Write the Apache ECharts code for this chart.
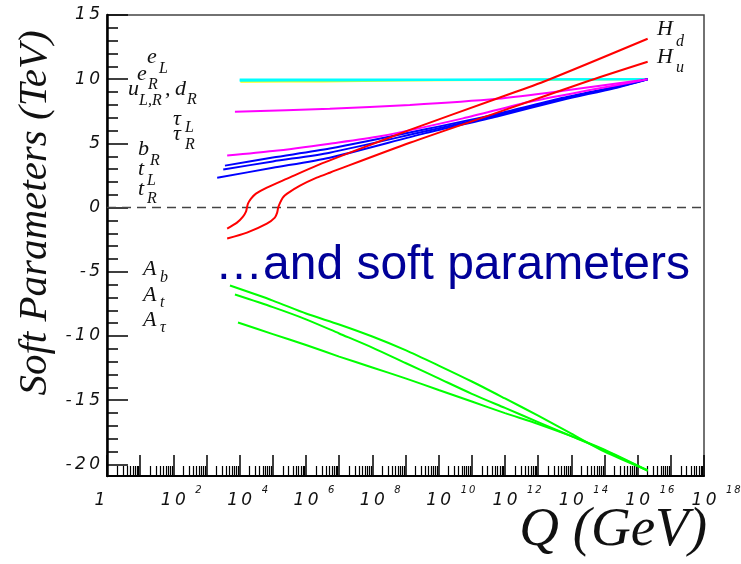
<!DOCTYPE html>
<html><head><meta charset="utf-8">
<script src="https://cdn.jsdelivr.net/npm/echarts@6/dist/echarts.min.js"></script>
<style>html,body{margin:0;padding:0;background:#fff}#c{width:741px;height:564px}</style>
</head><body><div id="c"></div>
<script>
// ---------- axis values ----------
const xMin = 1, xMax = 1.000001e18;
const yMin = -20.9, yMax = 15;
const xLabelValues = [1, 1e2, 1e4, 1e6, 1e8, 1e10, 1e12, 1e14, 1e16, 1e18];
const xMajorTicks = [1,1e1,1e2,1e3,1e4,1e5,1e6,1e7,1e8,1e9,1e10,1e11,1e12,1e13,1e14,1e15,1e16,1e17,1e18];
const yLabelValues = [-20, -15, -10, -5, 0, 5, 10, 15];
const yMinorTicks = [-20,-19,-18,-17,-16,-15,-14,-13,-12,-11,-10,-9,-8,-7,-6,-5,-4,-3,-2,-1,0,1,2,3,4,5,6,7,8,9,10,11,12,13,14,15];

// ---------- series: [Q (GeV), value (TeV)] ----------
const eL   = [[1.0e4, 9.97], [1e8, 9.97], [1e12, 9.98], [2e16, 10.0]];
const eR   = [[1.0e4, 9.88], [1e7, 9.90], [1e10, 9.94], [2e16, 10.0]];
const uLRdR = [[1.05e4, 9.80], [3e6, 9.83], [1e9, 9.90], [2e16, 10.0]];
const tauUpper = [[7.2e3, 7.47], [5.2e6, 7.70], [1.35e9, 8.00], [5.8e11, 8.48], [5.6e13, 9.10], [2e16, 10.0]];
const tauLower = [[4.2e3, 4.05], [1e5, 4.40], [5.2e6, 4.98], [1.7e8, 5.55], [5.4e10, 6.95], [5.6e12, 8.25], [5.9e14, 9.25], [2e16, 10.0]];
const bR = [[3.6e3, 3.27], [1e5, 3.90], [5.2e6, 4.60], [4e9, 6.10], [5.8e11, 7.30], [5.6e13, 8.55], [2e15, 9.40], [2e16, 10.0]];
const tL = [[3.2e3, 2.96], [1e5, 3.60], [5.2e6, 4.28], [4e9, 5.95], [5.8e11, 7.20], [5.6e13, 8.48], [2e15, 9.35], [2e16, 10.0]];
const tR = [[2.1e3, 2.33], [1e5, 3.10], [5.2e6, 3.89], [4e9, 5.80], [5.8e11, 7.10], [5.6e13, 8.40], [2e15, 9.30], [2e16, 10.0]];
const Hd = [[4.2e3, -1.63], [8.3e3, -1.17], [1.26e4, -0.70], [1.55e4, -0.31], [1.66e4, 0.0], [1.78e4, 0.31], [2.2e4, 0.70], [3.1e4, 1.09], [6.6e4, 1.56], [2.7e5, 2.26], [2.1e6, 3.27], [2.1e7, 4.28], [1.35e9, 6.05], [5.8e11, 8.50], [1.8e13, 9.90], [2e16, 13.15]];
const Hu = [[4.2e3, -2.41], [1.66e4, -1.95], [6.6e4, -1.25], [1.15e5, -0.78], [1.35e5, -0.39], [1.45e5, 0.0], [1.66e5, 0.39], [2.0e5, 0.78], [2.7e5, 1.09], [6.6e5, 1.71], [2.1e6, 2.33], [5.2e6, 2.72], [1.35e9, 5.05], [5.8e11, 7.40], [3.6e14, 9.90], [2e16, 11.36]];
const Ab   = [[5.1e3, -6.07], [1e5, -7.24], [1e6, -8.25], [1e7, -9.10], [1e8, -10.04], [1e9, -11.1], [1e10, -12.3], [1e11, -13.54], [1e12, -14.86], [1e13, -16.2], [1e14, -17.6], [1e15, -19.0], [2e16, -20.47]];
const At   = [[7.2e3, -6.77], [1e5, -7.75], [1e6, -8.70], [1e7, -9.80], [1e8, -10.9], [1e9, -12.1], [1e10, -13.3], [1e11, -14.5], [1e12, -15.6], [1e13, -16.7], [1e14, -17.8], [1e15, -18.9], [2e16, -20.47]];
const Atau = [[8.9e3, -8.95], [1e5, -9.85], [1e6, -10.7], [1e7, -11.6], [1e8, -12.45], [1e9, -13.3], [1e10, -14.2], [1e11, -15.1], [1e12, -16.0], [1e13, -16.85], [1e14, -17.8], [1e15, -18.85], [2e16, -20.47]];
const zeroLine = [[1, 0], [1e18, 0]];

// ---------- chart ----------
const xMinorTicks = [];
for (let n = 0; n < 18; n++) for (let k = 2; k <= 9; k++) xMinorTicks.push(k * Math.pow(10, n));

const FONT_NUM = 'DejaVu Sans';
const SERIF = 'Liberation Serif';
const INK = '#111';
const numRich = {
  one: {fontSize: 17, fontFamily: FONT_NUM, fontStyle: 'italic', color: INK, lineHeight: 20, padding: [0, 14, 0, 0]},
  b: {fontSize: 17, fontFamily: FONT_NUM, fontStyle: 'italic', color: INK, lineHeight: 20}
};
const supRich = {
  s: {fontSize: 10, fontFamily: FONT_NUM, fontStyle: 'italic', color: INK, lineHeight: 12, padding: [0, 0, 0, 22]}
};
function sp(s) { return String(s).split('').join('\u2009'); }
function expOf(v) { return Math.round(Math.log10(v)); }

function line(data, color, w) {
  return {type: 'line', data: data, showSymbol: false, symbol: 'none', smooth: 0.25, silent: true,
          lineStyle: {color: color, width: w || 2}, xAxisIndex: 0, yAxisIndex: 0, z: 3};
}

function lab(text, x, base, size) {
  return {type: 'text', x: x, y: base - 0.34 * size, silent: true, z: 10,
          style: {text: text, font: 'italic ' + size + 'px "' + SERIF + '"', fill: INK,
                  align: 'left', verticalAlign: 'middle', textAlign: 'left', textVerticalAlign: 'middle'}};
}

const graphics = [
  lab('e', 147, 65, 22), lab('L', 159, 74, 16),
  lab('e', 137, 82, 22), lab('R', 148, 90, 16),
  lab('u', 128, 97, 22), lab('L,R', 139, 106, 16), lab(',', 165, 97, 22), lab('d', 175, 97, 22), lab('R', 187, 105, 16),
  lab('\u03c4', 173, 127, 22), lab('L', 185, 133, 16),
  lab('\u03c4', 173, 142, 22), lab('R', 185, 150, 16),
  lab('b', 138, 157, 22), lab('R', 150, 166, 16),
  lab('t', 138, 177, 22), lab('L', 147, 186, 16),
  lab('t', 138, 197, 22), lab('R', 147, 204, 16),
  lab('A', 143, 277, 22), lab('b', 160, 283, 16),
  lab('A', 143, 303, 22), lab('t', 160, 308, 16),
  lab('A', 143, 328, 22), lab('\u03c4', 160, 333, 16),
  lab('H', 657, 37, 22), lab('d', 676, 47, 16),
  lab('H', 657, 65, 22), lab('u', 676, 73, 16),
  {type: 'text', x: 35, y: 213, rotation: Math.PI / 2, silent: true,
   style: {text: 'Soft Parameters (TeV)', font: 'italic 41px "' + SERIF + '"', fill: INK,
           align: 'center', verticalAlign: 'middle', textAlign: 'center', textVerticalAlign: 'middle'}},
  {type: 'text', x: 707, y: 531, silent: true,
   style: {text: 'Q (GeV)', font: 'italic 55px "' + SERIF + '"', fill: INK,
           align: 'right', verticalAlign: 'middle', textAlign: 'right', textVerticalAlign: 'middle'}},
  {type: 'text', x: 215, y: 266, silent: true, z: 20,
   style: {text: '\u2026and soft parameters', font: '48px "Liberation Sans"', fill: '#000099',
           align: 'left', verticalAlign: 'middle', textAlign: 'left', textVerticalAlign: 'middle'}}
];

const chart = echarts.init(document.getElementById('c'), null, {renderer: 'canvas'});
chart.setOption({
  animation: false,
  backgroundColor: '#fff',
  grid: {left: 107, right: 37, top: 15, bottom: 88, containLabel: false, outerBoundsMode: 'none',
         show: true, borderColor: '#444', borderWidth: 1.5, backgroundColor: 'transparent'},
  xAxis: [
    {type: 'log', logBase: 10, min: xMin, max: xMax, position: 'bottom',
     axisLine: {show: true, onZero: false, lineStyle: {color: '#000', width: 2}},
     axisTick: {show: true, inside: true, length: 21, customValues: xMajorTicks, lineStyle: {color: '#000', width: 1.5}},
     axisLabel: {show: true, margin: 15, customValues: xLabelValues, rich: numRich, hideOverlap: false, showMinLabel: true, showMaxLabel: true,
                 formatter: function (v) { return expOf(v) === 0 ? '{one|1}' : '{b|' + sp('10') + '}'; }},
     splitLine: {show: false}},
    {type: 'log', logBase: 10, min: xMin, max: xMax, position: 'bottom',
     axisLine: {show: false, onZero: false},
     axisTick: {show: true, inside: true, length: 10, customValues: xMinorTicks, lineStyle: {color: '#000', width: 1.2}},
     axisLabel: {show: false}, splitLine: {show: false}},
    {type: 'log', logBase: 10, min: xMin, max: xMax, position: 'bottom',
     axisLine: {show: false, onZero: false}, axisTick: {show: false},
     axisLabel: {show: true, margin: 8, align: 'left', customValues: xLabelValues.slice(1), rich: supRich, hideOverlap: false, showMinLabel: true, showMaxLabel: true,
                 formatter: function (v) { return '{s|' + sp(expOf(v)) + '}'; }},
     splitLine: {show: false}}
  ],
  yAxis: [
    {type: 'value', min: yMin, max: yMax, position: 'left',
     axisLine: {show: true, onZero: false, lineStyle: {color: '#000', width: 2.5}},
     axisTick: {show: true, inside: true, length: 21, customValues: yLabelValues, lineStyle: {color: '#000', width: 1.5}},
     axisLabel: {show: true, margin: 7, customValues: yLabelValues, fontSize: 17, fontFamily: FONT_NUM, fontStyle: 'italic', color: INK,
                 formatter: function (v) { return sp(v); }},
     splitLine: {show: false}},
    {type: 'value', min: yMin, max: yMax, position: 'left',
     axisLine: {show: false, onZero: false},
     axisTick: {show: true, inside: true, length: 11, customValues: yMinorTicks, lineStyle: {color: '#000', width: 1.5}},
     axisLabel: {show: false}, splitLine: {show: false}}
  ],
  series: [
    {type: 'line', data: zeroLine, showSymbol: false, symbol: 'none', silent: true, z: 2,
     lineStyle: {color: '#444', width: 1.5, type: [9, 6]}},
    line(uLRdR, '#ffff00', 2),
    line(eR, '#00ffff', 2),
    line(eL, '#00ffff', 2),
    line(tauUpper, '#ff00ff', 2),
    line(bR, '#0000ff', 2),
    line(tL, '#0000ff', 2),
    line(tR, '#0000ff', 2),
    line(tauLower, '#ff00ff', 2),
    line(Hd, '#ff0000', 2),
    line(Hu, '#ff0000', 2),
    line(Ab, '#00ff00', 2),
    line(At, '#00ff00', 2),
    line(Atau, '#00ff00', 2)
  ],
  graphic: graphics
});
</script></body></html>
